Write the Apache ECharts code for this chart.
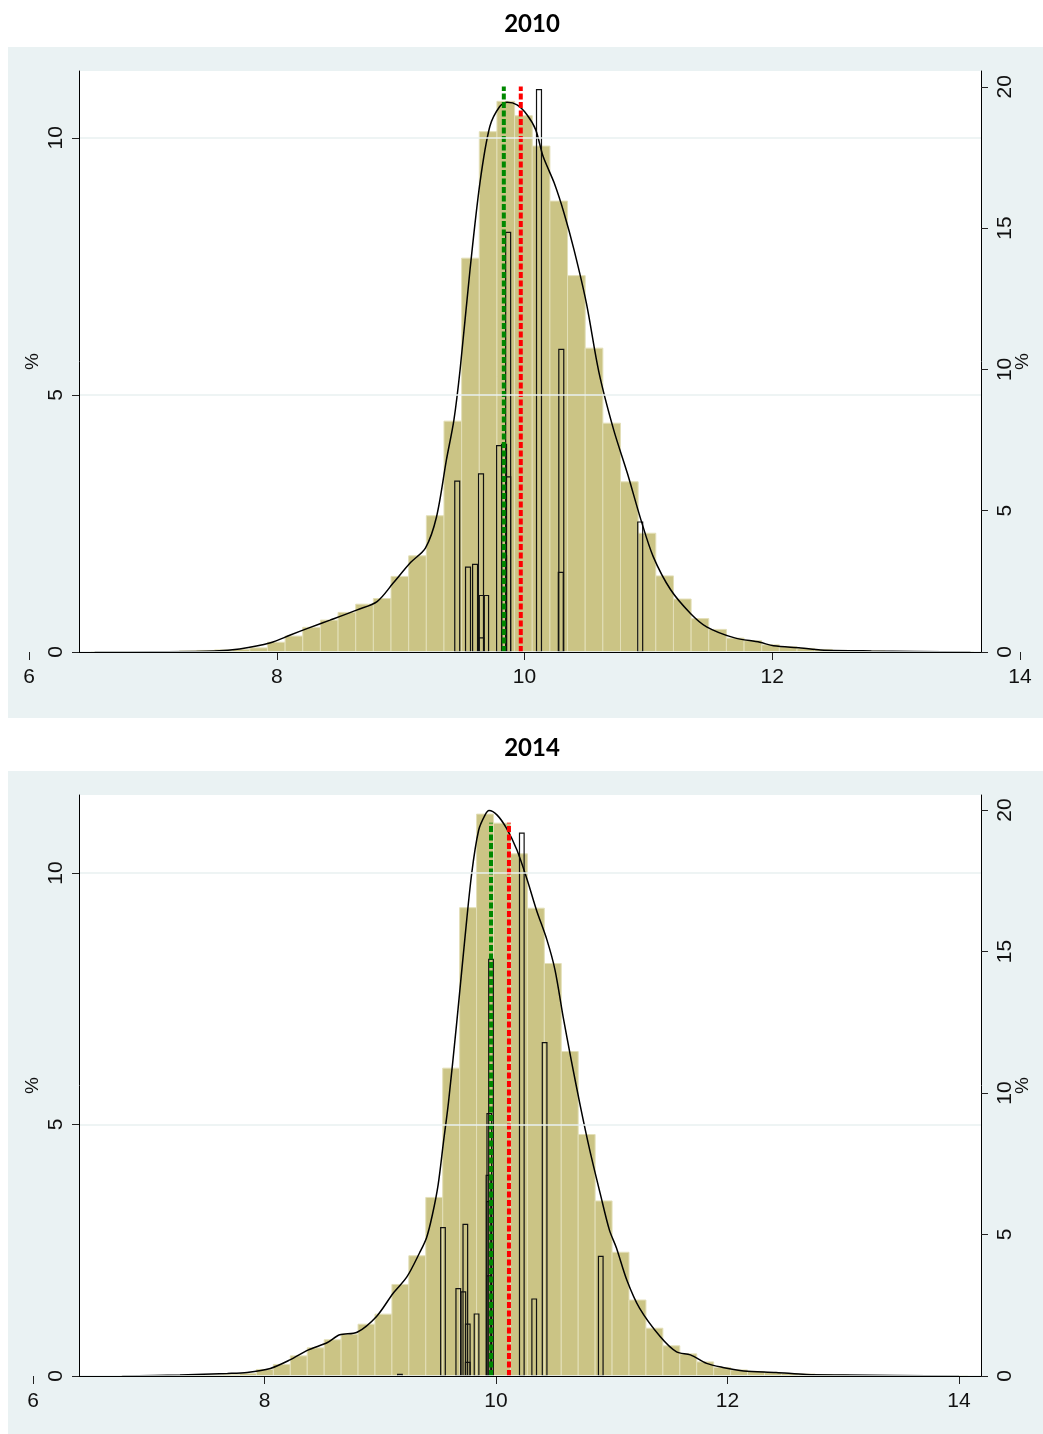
<!DOCTYPE html>
<html>
<head>
<meta charset="utf-8">
<title>2010 / 2014</title>
<script src="https://cdn.jsdelivr.net/npm/echarts@6/dist/echarts.min.js"></script>
<style>
  html, body { margin: 0; padding: 0; background: #fff; }
  #chart { width: 1043px; height: 1434px; }
</style>
</head>
<body>
<div id="chart"></div>
<script>
// ---- 数据 ----
var years = ['2010', '2014'];

// 直方图（左轴 %）：起点、组距、各组高度
var histStart2010 = 6.50, histWidth2010 = 0.1425;
var hist2010 = [0.005, 0.005, 0.005, 0.01, 0.01, 0.02, 0.03, 0.04, 0.05, 0.08,
  0.19, 0.31, 0.48, 0.62, 0.77, 0.93, 1.04, 1.47, 1.87, 2.65,
  4.49, 7.66, 10.12, 10.71, 10.43, 9.84, 8.77, 7.32, 5.91, 4.45,
  3.31, 2.31, 1.48, 1.03, 0.65, 0.44, 0.27, 0.22, 0.14, 0.10,
  0.07, 0.05, 0.03, 0.02, 0.02, 0.01, 0.01, 0.005, 0.005, 0.005];

var histStart2014 = 6.76, histWidth2014 = 0.1463;
var hist2014 = [0.005, 0.005, 0.01, 0.01, 0.02, 0.02, 0.03, 0.05, 0.13, 0.23,
  0.40, 0.56, 0.72, 0.83, 1.03, 1.23, 1.82, 2.39, 3.55, 6.12,
  9.31, 11.17, 10.99, 10.38, 9.30, 8.20, 6.45, 4.80, 3.48, 2.46,
  1.51, 0.95, 0.60, 0.44, 0.28, 0.17, 0.12, 0.09, 0.07, 0.05,
  0.04, 0.03, 0.02, 0.01, 0.01, 0.01, 0.01, 0.005, 0.005, 0.005];

// 核密度曲线（左轴 %）
var density2010 = [[6.53, 0], [7.0, 0.005], [7.5, 0.02], [7.7, 0.06], [7.95, 0.18], [8.11, 0.33],
  [8.26, 0.47], [8.43, 0.62], [8.65, 0.82], [8.81, 0.98], [8.94, 1.34], [9.08, 1.74], [9.2, 2.02],
  [9.29, 2.63], [9.37, 3.74], [9.43, 4.51], [9.48, 5.49], [9.56, 7.43], [9.64, 9.12], [9.72, 10.22],
  [9.80, 10.61], [9.86, 10.69], [9.94, 10.64], [10.02, 10.45], [10.09, 10.16], [10.15, 9.64],
  [10.24, 9.12], [10.32, 8.53], [10.40, 7.82], [10.50, 6.78], [10.60, 5.45], [10.72, 4.32],
  [10.83, 3.48], [10.94, 2.57], [11.04, 1.85], [11.18, 1.21], [11.34, 0.75], [11.47, 0.49],
  [11.69, 0.28], [11.9, 0.19], [12.01, 0.12], [12.23, 0.08], [12.39, 0.04], [12.8, 0.02], [13.6, 0]];

var density2014 = [[6.77, 0], [7.27, 0.02], [7.68, 0.05], [7.85, 0.07], [8.05, 0.15], [8.22, 0.32],
  [8.38, 0.52], [8.54, 0.66], [8.65, 0.82], [8.80, 0.87], [8.97, 1.19], [9.11, 1.64], [9.23, 1.97],
  [9.34, 2.45], [9.40, 2.75], [9.45, 3.2], [9.50, 3.8], [9.545, 4.63], [9.59, 5.45], [9.66, 7.01],
  [9.73, 8.67], [9.79, 9.99], [9.85, 10.85], [9.905, 11.15], [9.94, 11.24], [10.01, 11.15],
  [10.09, 10.89], [10.18, 10.46], [10.27, 9.86], [10.35, 9.26], [10.44, 8.67], [10.51, 8.07],
  [10.58, 7.14], [10.65, 6.28], [10.73, 5.35], [10.81, 4.49], [10.90, 3.63], [10.98, 2.90],
  [11.04, 2.55], [11.13, 1.91], [11.24, 1.35], [11.42, 0.78], [11.56, 0.48], [11.68, 0.42],
  [11.82, 0.25], [11.96, 0.17], [12.14, 0.10], [12.42, 0.07], [12.68, 0.03], [13.0, 0.02], [14.0, 0]];

// 空心窄柱（右轴 %）：[中心, 高度]
var spikes2010 = [[9.457, 6.05], [9.544, 3.0], [9.601, 3.1], [9.649, 6.3], [9.655, 2.0], [9.651, 0.5],
  [9.69, 2.0], [9.795, 7.3], [9.835, 7.35], [9.835, 3.4], [9.868, 14.85], [9.868, 6.2],
  [10.117, 19.9], [10.297, 10.71], [10.293, 2.82], [10.934, 4.6]];
var spikes2014 = [[9.17, 0.06], [9.542, 5.24], [9.674, 3.09], [9.718, 2.97], [9.735, 5.36], [9.756, 1.83],
  [9.756, 0.48], [9.832, 2.19], [9.935, 7.09], [9.94, 6.16], [9.942, 9.27], [9.94, 3.54],
  [9.957, 14.72], [10.223, 19.18], [10.33, 2.72], [10.42, 11.78], [10.905, 4.23]];

// 竖线（绿 / 红）
var greenLine = [9.833, 9.957];
var redLine = [9.97, 10.112];
var refLineTop = 11;

// 刻度
var xTicks = [6, 8, 10, 12, 14];
var leftTicks = [0, 5, 10];
var rightTicks = [0, 5, 10, 15, 20];

// ---- 版式 ----
var panels = [
  { titleTop: 7, bgTop: 47, bgBottom: 718, top: 71, bottom: 652, dataLeft: 29, dataRight: 1020, leftMax: 11.30, rightMax: 20.56 },
  { titleTop: 731, bgTop: 771, bgBottom: 1434, top: 795, bottom: 1376, dataLeft: 33, dataRight: 959, leftMax: 11.55, rightMax: 20.53 }
];
var W = 1043, H = 1434, plotLeft = 79, plotRight = 981;
var spikeWidth = 0.04;
var labelFont = 'Liberation Sans';

var hists = [[histStart2010, histWidth2010, hist2010], [histStart2014, histWidth2014, hist2014]];
var densities = [density2010, density2014];
var spikes = [spikes2010, spikes2014];

function renderHist(params, api) {
  var p0 = api.coord([api.value(0), api.value(2)]);
  var p1 = api.coord([api.value(1), 0]);
  return {
    type: 'rect',
    shape: { x: p0[0], y: p0[1], width: p1[0] - p0[0], height: p1[1] - p0[1] },
    style: { fill: '#cbc485', stroke: '#e3dfb8', lineWidth: 1 }
  };
}

function renderSpike(params, api) {
  var c = api.value(0);
  var p0 = api.coord([c - spikeWidth / 2, api.value(1)]);
  var p1 = api.coord([c + spikeWidth / 2, 0]);
  return {
    type: 'rect',
    shape: { x: p0[0], y: p0[1], width: p1[0] - p0[0], height: p1[1] - p0[1] },
    style: { fill: 'none', stroke: '#111', lineWidth: 1.2 }
  };
}

var option = {
  animation: false,
  backgroundColor: '#fff',
  title: [], graphic: [], grid: [], xAxis: [], yAxis: [], series: []
};

panels.forEach(function (p, k) {
  var g = 2 * k, y0 = 4 * k;

  option.title.push({
    text: years[k], left: 527, top: p.titleTop, textAlign: 'center',
    textStyle: { fontFamily: 'Lato', fontWeight: 'bold', fontSize: 24, color: '#000' }
  });
  option.graphic.push({
    type: 'rect', z: -100, silent: true,
    shape: { x: 8, y: p.bgTop, width: W - 8, height: p.bgBottom - p.bgTop },
    style: { fill: '#eaf2f3' }
  });

  // 数据网格（x 轴范围更宽）
  option.grid.push({ left: p.dataLeft, right: W - p.dataRight, top: p.top, bottom: H - p.bottom });
  // 白色绘图区
  option.grid.push({ left: plotLeft, right: W - plotRight, top: p.top, bottom: H - p.bottom,
    show: true, backgroundColor: '#fff', borderWidth: 0 });

  option.xAxis.push({
    gridIndex: g, type: 'value', min: 6, max: 14, interval: 2,
    axisLine: { show: false },
    axisTick: { show: true, length: 8, lineStyle: { color: '#222' }, customValues: xTicks },
    axisLabel: { margin: 15, fontSize: 21, fontFamily: labelFont, color: '#111', customValues: xTicks },
    splitLine: { show: false }
  });
  option.xAxis.push({
    gridIndex: g + 1, type: 'value', min: 0, max: 1, z: 10,
    axisLine: { show: true, lineStyle: { color: '#000', width: 1 } },
    axisTick: { show: false }, axisLabel: { show: false }, splitLine: { show: false }
  });

  option.yAxis.push({ gridIndex: g, type: 'value', min: 0, max: p.leftMax, show: false });
  option.yAxis.push({ gridIndex: g, type: 'value', min: 0, max: p.rightMax, show: false });
  option.yAxis.push({
    gridIndex: g + 1, type: 'value', position: 'left', min: 0, max: p.leftMax, z: 10,
    name: '%', nameLocation: 'middle', nameGap: 37, nameRotate: 90, nameMoveOverlap: false,
    nameTextStyle: { fontFamily: labelFont, fontSize: 19, color: '#111' },
    axisLine: { show: true, lineStyle: { color: '#000', width: 1 } },
    axisTick: { show: true, length: 7, lineStyle: { color: '#222' }, customValues: leftTicks },
    axisLabel: { rotate: 90, margin: 12, fontSize: 21, fontFamily: labelFont, color: '#111', customValues: leftTicks },
    splitLine: { show: true, lineStyle: { color: '#e8f0f1', width: 1.5 } }
  });
  option.yAxis.push({
    gridIndex: g + 1, type: 'value', position: 'right', min: 0, max: p.rightMax, z: 10,
    name: '%', nameLocation: 'middle', nameGap: 32, nameRotate: 90, nameMoveOverlap: false,
    nameTextStyle: { fontFamily: labelFont, fontSize: 19, color: '#111' },
    axisLine: { show: true, lineStyle: { color: '#000', width: 1 } },
    axisTick: { show: true, length: 7, lineStyle: { color: '#222' }, customValues: rightTicks },
    axisLabel: { rotate: 90, margin: 14, fontSize: 21, fontFamily: labelFont, color: '#111', customValues: rightTicks },
    splitLine: { show: false }
  });

  var h = hists[k];
  var histData = h[2].map(function (v, i) {
    return [h[0] + i * h[1], h[0] + (i + 1) * h[1], v];
  });
  option.series.push({
    type: 'custom', xAxisIndex: g, yAxisIndex: y0, z: 2,
    renderItem: renderHist, encode: { x: [0, 1], y: 2 }, data: histData
  });
  option.series.push({
    type: 'custom', xAxisIndex: g, yAxisIndex: y0 + 1, z: 3,
    renderItem: renderSpike, encode: { x: 0, y: 1 }, data: spikes[k]
  });
  option.series.push({
    type: 'line', xAxisIndex: g, yAxisIndex: y0, z: 4,
    data: densities[k], smooth: 0.3, showSymbol: false, symbol: 'none',
    lineStyle: { color: '#000', width: 1.5 }
  });
  [[greenLine[k], '#008800'], [redLine[k], '#ff0000']].forEach(function (r) {
    option.series.push({
      type: 'line', xAxisIndex: g, yAxisIndex: y0, z: 5, symbol: 'none',
      data: [[r[0], 0], [r[0], refLineTop]],
      lineStyle: { color: r[1], width: 4, type: [6, 2.5] }
    });
  });
});

var myChart = echarts.init(document.getElementById('chart'));
myChart.setOption(option);
window.addEventListener('resize', function () {
  myChart.resize();
});
</script>
</body>
</html>
